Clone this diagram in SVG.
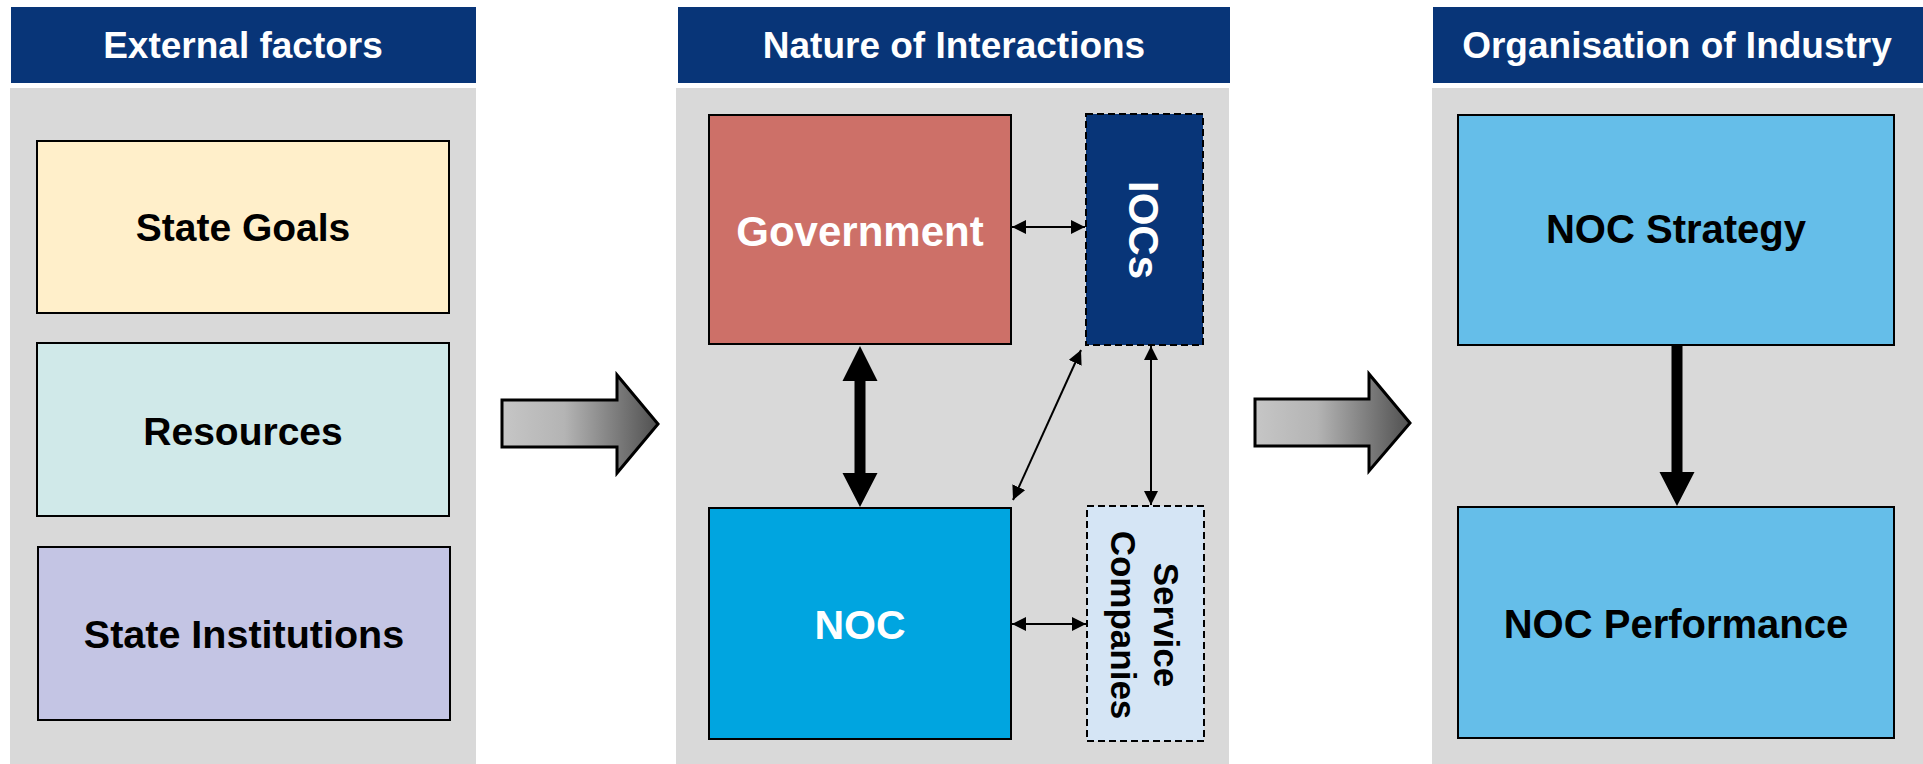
<svg xmlns="http://www.w3.org/2000/svg" width="1923" height="764" viewBox="0 0 1923 764">
<style>
.hdr{fill:#083578}
.panel{fill:#d9d9d9}
.box{stroke:#000;stroke-width:2}
.dash{stroke:#000;stroke-width:2;stroke-dasharray:7,4}
.ht{font-family:"Liberation Sans",Arial,sans-serif;font-weight:bold;font-size:37px;fill:#fff;text-anchor:middle}
.bt{font-family:"Liberation Sans",Arial,sans-serif;font-weight:bold;text-anchor:middle;fill:#000}
.thin{stroke:#000;stroke-width:2;fill:none;marker-start:url(#ah);marker-end:url(#ah)}
.block{stroke:#000;stroke-width:3;fill:url(#grad)}
</style>
<defs>
<linearGradient id="grad" x1="0" y1="0" x2="1" y2="0">
<stop offset="0" stop-color="#c6c6c6"/>
<stop offset="0.4" stop-color="#b4b4b4"/>
<stop offset="1" stop-color="#505050"/>
</linearGradient>
<marker id="ah" viewBox="0 0 14 14" markerWidth="14" markerHeight="14" refX="14" refY="7" orient="auto-start-reverse" markerUnits="userSpaceOnUse">
<path d="M0,0 L14,7 L0,14 Z" fill="#000"/>
</marker>
</defs>

<g id="panel-external">
<rect class="panel" x="10" y="88" width="466" height="676"/>
<rect class="hdr" x="11" y="7" width="465" height="76"/>
<text class="ht" x="243" y="58">External factors</text>
</g>
<g id="panel-interactions">
<rect class="panel" x="676" y="88" width="553" height="676"/>
<rect class="hdr" x="678" y="7" width="552" height="76"/>
<text class="ht" x="954" y="58">Nature of Interactions</text>
</g>
<g id="panel-industry">
<rect class="panel" x="1432" y="88" width="491" height="676"/>
<rect class="hdr" x="1433" y="7" width="490" height="76"/>
<text class="ht" x="1677" y="58">Organisation of Industry</text>
</g>

<g id="state-goals">
<rect class="box" x="37" y="141" width="412" height="172" fill="#ffefca"/>
<text class="bt" x="243" y="241" font-size="39">State Goals</text>
</g>
<g id="resources">
<rect class="box" x="37" y="343" width="412" height="173" fill="#d0e9e9"/>
<text class="bt" x="243" y="445" font-size="39">Resources</text>
</g>
<g id="state-institutions">
<rect class="box" x="38" y="547" width="412" height="173" fill="#c4c5e4"/>
<text class="bt" x="244" y="648" font-size="39.5">State Institutions</text>
</g>

<g id="government">
<rect class="box" x="709" y="115" width="302" height="229" fill="#cd7068"/>
<text class="bt" x="860" y="246" font-size="42" fill="#fff" style="fill:#fff">Government</text>
</g>
<g id="iocs">
<rect class="dash" x="1086" y="114" width="117" height="231" fill="#083578"/>
<text class="bt" transform="translate(1129,230) rotate(90)" font-size="42" style="fill:#fff">IOCs</text>
</g>
<g id="noc">
<rect class="box" x="709" y="508" width="302" height="231" fill="#00a5e0"/>
<text class="bt" x="860" y="639" font-size="41" style="fill:#fff">NOC</text>
</g>
<g id="service-companies">
<rect class="dash" x="1087" y="506" width="117" height="235" fill="#d5e5f5"/>
<text class="bt" transform="translate(1154,625) rotate(90)" font-size="35"><tspan x="0" y="0">Service</tspan><tspan x="0" y="43">Companies</tspan></text>
</g>

<g id="noc-strategy">
<rect class="box" x="1458" y="115" width="436" height="230" fill="#65bee9"/>
<text class="bt" x="1676" y="243" font-size="40">NOC Strategy</text>
</g>
<g id="noc-performance">
<rect class="box" x="1458" y="507" width="436" height="231" fill="#65bee9"/>
<text class="bt" x="1676" y="638" font-size="40">NOC Performance</text>
</g>

<g id="connectors">
<path class="block" d="M502,400 L617,400 L617,375 L658,424 L617,473 L617,447 L502,447 Z"/>
<path class="block" d="M1255,399 L1369,399 L1369,374 L1410,423 L1369,471 L1369,446 L1255,446 Z"/>
<path d="M860,346 L877.5,381 L865.5,381 L865.5,473 L877.5,473 L860,507 L842.5,473 L854.5,473 L854.5,381 L842.5,381 Z" fill="#000"/>
<path d="M1671.5,345 L1682.5,345 L1682.5,472 L1694.5,472 L1677,506 L1659.5,472 L1671.5,472 Z" fill="#000"/>
<line class="thin" x1="1012" y1="227" x2="1085" y2="227"/>
<line class="thin" x1="1012" y1="624" x2="1086" y2="624"/>
<line class="thin" x1="1081" y1="350" x2="1013" y2="500"/>
<line class="thin" x1="1151" y1="346" x2="1151" y2="505"/>
</g>
</svg>
